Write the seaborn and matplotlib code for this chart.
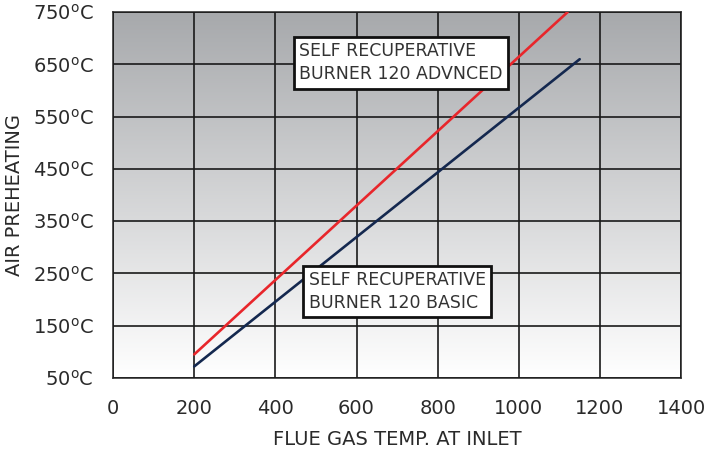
import numpy as np
import pandas as pd
import seaborn as sns
import matplotlib.pyplot as plt
from matplotlib.colors import LinearSegmentedColormap

# flue gas temp at inlet vs air preheating
advanced_x = [200, 1120]
advanced_y = [95, 750]
basic_x = [200, 1150]
basic_y = [72, 660]

x_ticks = [0, 200, 400, 600, 800, 1000, 1200, 1400]
y_ticks = [50, 150, 250, 350, 450, 550, 650, 750]
y_labels = [r"%d$^{\mathrm{o}}$C" % v for v in y_ticks]

label_advanced = "SELF RECUPERATIVE\nBURNER 120 ADVNCED"
label_basic = "SELF RECUPERATIVE\nBURNER 120 BASIC"

df = pd.concat([
    pd.DataFrame({"temp": advanced_x, "air": advanced_y, "burner": "advanced"}),
    pd.DataFrame({"temp": basic_x, "air": basic_y, "burner": "basic"}),
])

sns.set_style("white")
plt.rcParams["font.family"] = ["DejaVu Sans"]
plt.rcParams["mathtext.fontset"] = "dejavusans"

fig = plt.figure(figsize=(7.11, 4.51), dpi=100)
ax = fig.add_axes([0.159, 0.162, 0.799, 0.811])

# grey (top) to white (bottom) background gradient
grad = np.linspace(0, 1, 256).reshape(-1, 1)
cmap = LinearSegmentedColormap.from_list("bg", ["#a7a9ac", "#ffffff"])
ax.imshow(grad, cmap=cmap, aspect="auto", extent=[0, 1, 0, 1],
          transform=ax.transAxes, zorder=0)

sns.lineplot(data=df, x="temp", y="air", hue="burner",
             palette={"advanced": "#e8262b", "basic": "#14284f"},
             linewidth=1.9, legend=False, ax=ax, zorder=3)

ax.set_xlim(0, 1400)
ax.set_ylim(50, 750)
ax.set_xticks(x_ticks)
ax.set_yticks(y_ticks)
ax.set_yticklabels(y_labels)
ax.grid(True, color="#1a1a1a", linewidth=1.2, zorder=1)
ax.set_axisbelow(False)
for s in ax.spines.values():
    s.set_color("#333333")
    s.set_linewidth(1.2)

ax.tick_params(axis="both", length=0, labelsize=14, colors="#2a2a2a")
ax.tick_params(axis="y", pad=14)
ax.tick_params(axis="x", pad=15)
ax.set_xlabel("FLUE GAS TEMP. AT INLET", fontsize=14, color="#2a2a2a", labelpad=9)
ax.set_ylabel("AIR PREHEATING", fontsize=14, color="#2a2a2a", labelpad=6)

box = dict(boxstyle="square,pad=0.3", facecolor="white", edgecolor="#111111", linewidth=2)
ax.text(458, 692, label_advanced, fontsize=12.5, va="top", ha="left",
        linespacing=1.35, color="#333333", bbox=box, zorder=5)
ax.text(482, 254, label_basic, fontsize=12.5, va="top", ha="left",
        linespacing=1.35, color="#333333", bbox=box, zorder=5)

fig.savefig("out.png", dpi=100)
